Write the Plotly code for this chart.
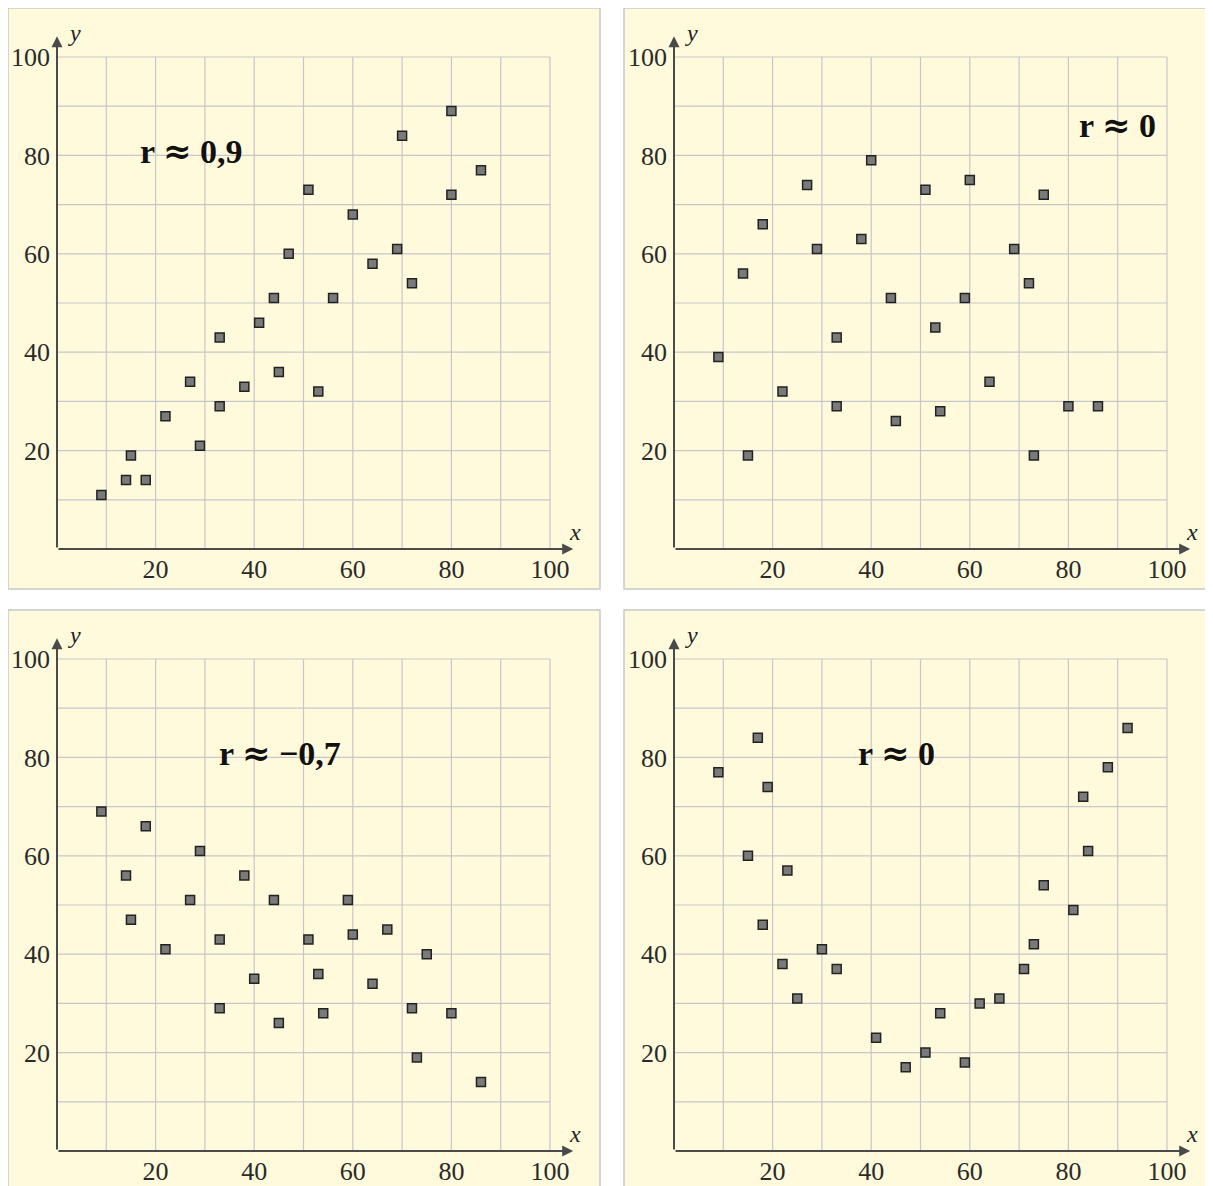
import plotly.graph_objects as go

# ---- data ----
x1 = [9, 14, 15, 18, 22, 27, 29, 33, 33, 38, 41, 44, 45, 47, 51, 53, 56, 60, 64, 69, 70, 72, 80, 80, 86]
y1 = [11, 14, 19, 14, 27, 34, 21, 43, 29, 33, 46, 51, 36, 60, 73, 32, 51, 68, 58, 61, 84, 54, 89, 72, 77]

x2 = [9, 14, 15, 18, 22, 27, 29, 33, 33, 38, 40, 44, 45, 51, 53, 54, 59, 60, 64, 69, 72, 73, 75, 80, 86]
y2 = [39, 56, 19, 66, 32, 74, 61, 43, 29, 63, 79, 51, 26, 73, 45, 28, 51, 75, 34, 61, 54, 19, 72, 29, 29]

x3 = [9, 14, 15, 18, 22, 27, 29, 33, 33, 38, 40, 44, 45, 51, 53, 54, 59, 60, 64, 67, 72, 73, 75, 80, 86]
y3 = [69, 56, 47, 66, 41, 51, 61, 43, 29, 56, 35, 51, 26, 43, 36, 28, 51, 44, 34, 45, 29, 19, 40, 28, 14]

x4 = [9, 15, 17, 18, 19, 22, 23, 25, 30, 33, 41, 47, 51, 54, 59, 62, 66, 71, 73, 75, 81, 83, 84, 88, 92]
y4 = [77, 60, 84, 46, 74, 38, 57, 31, 41, 37, 23, 17, 20, 28, 18, 30, 31, 37, 42, 54, 49, 72, 61, 78, 86]

label_values = ["0,9", "0", "−0,7", "0"]
label_pos = [(27.2, 80.8), (89.9, 86.2), (45.2, 80.8), (45.2, 80.8)]

tick_vals = [20, 40, 60, 80, 100]
tick_text = ["20", "40", "60", "80", "100"]
grid_vals = [10, 20, 30, 40, 50, 60, 70, 80, 90, 100]

OFF = 8  # page body margin
W, H = 1213 - OFF, 1186 - OFF
XMAX, YMAX = 105.0, 104.5
FONT = "Liberation Serif"
BG = "#fffadc"
GRID = "#c9c5cc"

panels = [
    dict(ox=57, oy=549, rect=(8, 8, 600, 589)),
    dict(ox=674, oy=549, rect=(624, 8, 1240, 589)),
    dict(ox=57, oy=1151, rect=(8, 610, 600, 1220)),
    dict(ox=674, oy=1151, rect=(624, 610, 1240, 1220)),
]
data = [(x1, y1), (x2, y2), (x3, y3), (x4, y4)]
sx = 4.93
sy = 4.92

fig = go.Figure()
shapes = []
annotations = []

for i, (p, (xs, ys)) in enumerate(zip(panels, data)):
    n = "" if i == 0 else str(i + 1)
    xa = "xaxis" + n
    ya = "yaxis" + n
    xr = "x" + n
    yr = "y" + n
    rx0, ry0, rx1, ry1 = [v - OFF for v in p["rect"]]
    shapes.append(dict(type="rect", xref="paper", yref="paper",
                       x0=rx0 / W, x1=rx1 / W, y0=1 - ry1 / H, y1=1 - ry0 / H,
                       fillcolor=BG, line=dict(color="#c8c8c8", width=1.5), layer="below"))
    ox, oy = p["ox"] - OFF, p["oy"] - OFF
    xd = [ox / W, (ox + XMAX * sx) / W]
    yd = [1 - oy / H, 1 - (oy - YMAX * sy) / H]
    fig.layout[xa] = dict(domain=xd, range=[0, XMAX], showgrid=False, zeroline=False,
                          showline=False, tickmode="array", tickvals=tick_vals, ticktext=tick_text,
                          ticks="", tickfont=dict(family=FONT, size=26, color="#2a2a2a"),
                          anchor=yr, fixedrange=True, ticklabelstandoff=2)
    fig.layout[ya] = dict(domain=yd, range=[0, YMAX], showgrid=False, zeroline=False,
                          showline=False, tickmode="array", tickvals=tick_vals, ticktext=tick_text,
                          ticks="", tickfont=dict(family=FONT, size=26, color="#2a2a2a"),
                          anchor=xr, fixedrange=True, ticklabelstandoff=6)
    for g in grid_vals:
        shapes.append(dict(type="line", xref=xr, yref=yr, x0=g, x1=g, y0=0, y1=100,
                           line=dict(color=GRID, width=1.2), layer="below"))
        shapes.append(dict(type="line", xref=xr, yref=yr, x0=0, x1=100, y0=g, y1=g,
                           line=dict(color=GRID, width=1.2), layer="below"))
    annotations.append(dict(x=XMAX - 0.3, y=0, ax=0, ay=0, xref=xr, yref=yr, axref=xr, ayref=yr,
                            text="", showarrow=True, arrowhead=2, arrowsize=1.1, arrowwidth=2,
                            arrowcolor="#4a4a4a"))
    annotations.append(dict(x=0, y=YMAX - 0.3, ax=0, ay=0, xref=xr, yref=yr, axref=xr, ayref=yr,
                            text="", showarrow=True, arrowhead=2, arrowsize=1.1, arrowwidth=2,
                            arrowcolor="#4a4a4a"))
    annotations.append(dict(x=XMAX, y=0, xref=xr, yref=yr, text="<i>x</i>", showarrow=False,
                            xanchor="center", yanchor="bottom", yshift=2,
                            font=dict(family=FONT, size=24, color="#222")))
    annotations.append(dict(x=0, y=YMAX, xref=xr, yref=yr, text="<i>y</i>", showarrow=False,
                            xanchor="left", yanchor="middle", xshift=9, yshift=2,
                            font=dict(family=FONT, size=24, color="#222")))
    lx, ly = label_pos[i]
    txt = ("<b>r <span style='font-family:DejaVu Serif'>≈</span> "
           + label_values[i] + "</b>")
    annotations.append(dict(x=lx, y=ly, xref=xr, yref=yr, text=txt,
                            showarrow=False, xanchor="center", yanchor="middle",
                            font=dict(family=FONT, size=34, color="#111")))
    fig.add_trace(go.Scatter(x=xs, y=ys, mode="markers", xaxis=xr, yaxis=yr,
                             marker=dict(symbol="square", size=9, color="#7a7a7a",
                                         line=dict(color="#222", width=1.5)),
                             hoverinfo="skip", cliponaxis=False))

fig.update_layout(width=W, height=H, margin=dict(l=0, r=0, t=0, b=0),
                  paper_bgcolor="white", plot_bgcolor="rgba(0,0,0,0)",
                  showlegend=False, shapes=shapes, annotations=annotations)

fig.write_html("out.html")
